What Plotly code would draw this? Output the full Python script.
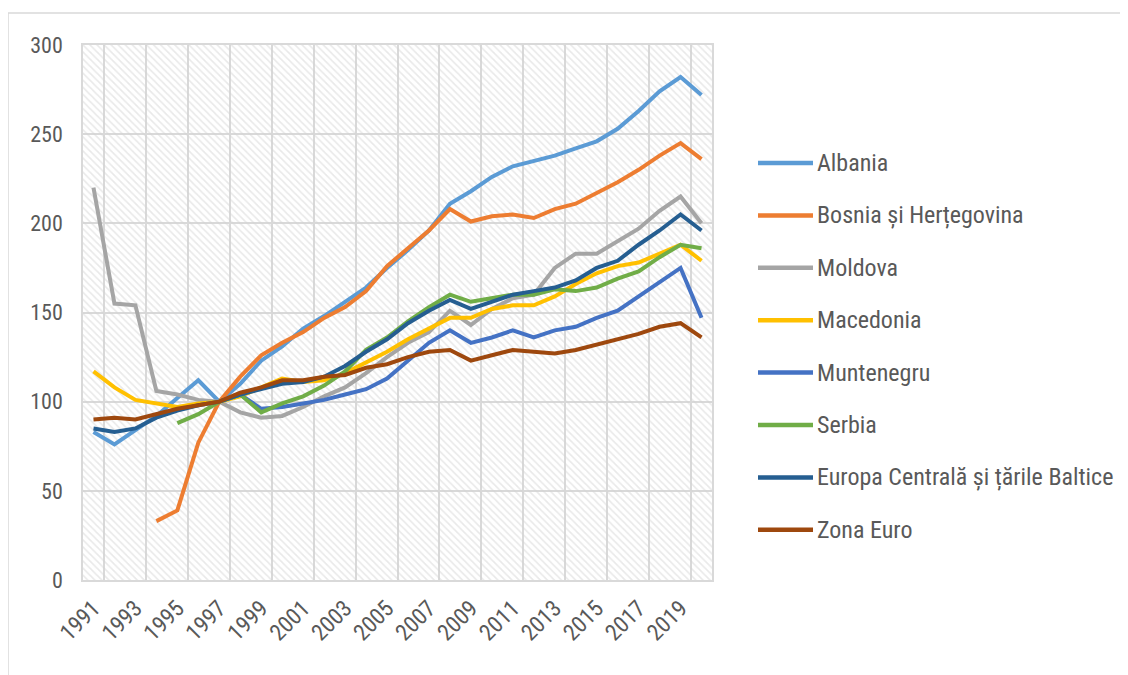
import plotly.graph_objects as go

years = list(range(1991, 2021))
tick_years = list(range(1991, 2020, 2))
y_ticks = [0, 50, 100, 150, 200, 250, 300]

series_names = ["Albania", "Bosnia și Herțegovina", "Moldova", "Macedonia",
                "Muntenegru", "Serbia", "Europa Centrală și țările Baltice", "Zona Euro"]
series_colors = ["#5B9BD5", "#ED7D31", "#A5A5A5", "#FFC000",
                 "#4472C4", "#70AD47", "#255E91", "#9E480E"]

albania = [83, 76, 84, 92, 102, 112, 100, 110, 123, 131, 141, 148, 156, 164, 175,
           185, 196, 211, 218, 226, 232, 235, 238, 242, 246, 253, 263, 274, 282, 272]
bosnia = [None, None, None, 33, 39, 77, 100, 114, 126, 133, 139, 147, 153, 162, 176,
          186, 196, 208, 201, 204, 205, 203, 208, 211, 217, 223, 230, 238, 245, 236]
moldova = [220, 155, 154, 106, 104, 101, 100, 94, 91, 92, 97, 103, 108, 116, 125,
           133, 139, 151, 143, 152, 158, 160, 175, 183, 183, 190, 197, 207, 215, 200]
macedonia = [117, 108, 101, 99, 97, 99, 100, 103, 108, 113, 111, 112, 116, 122, 128,
             135, 141, 147, 147, 152, 154, 154, 159, 166, 172, 176, 178, 183, 188, 179]
muntenegru = [None, None, None, None, None, None, 100, 104, 96, 97, 99, 101, 104, 107, 113,
              123, 133, 140, 133, 136, 140, 136, 140, 142, 147, 151, 159, 167, 175, 147]
serbia = [None, None, None, None, 88, 93, 100, 104, 94, 99, 103, 109, 117, 129, 136,
          145, 153, 160, 156, 158, 160, 160, 163, 162, 164, 169, 173, 181, 188, 186]
ecb = [85, 83, 85, 91, 95, 98, 100, 104, 107, 110, 111, 114, 120, 128, 135,
       144, 151, 157, 152, 156, 160, 162, 164, 168, 175, 179, 188, 196, 205, 196]
zona_euro = [90, 91, 90, 93, 96, 98, 100, 105, 108, 112, 112, 114, 115, 119, 121,
             125, 128, 129, 123, 126, 129, 128, 127, 129, 132, 135, 138, 142, 144, 136]

series_values = [albania, bosnia, moldova, macedonia, muntenegru, serbia, ecb, zona_euro]

FONT = "Liberation Sans Narrow, Roboto Condensed, Arial Narrow, Liberation Sans, sans-serif"
TXT = "#595959"
GRID = "#d9d9d9"

OFF = 8  # page body margin
W, H = 1128 - OFF, 675 - OFF
L, R, T, B = 83 - OFF, 712 - OFF, 45 - OFF, 580 - OFF

x_range = [years[0] - 0.5, years[-1] + 0.5]
y_range = [y_ticks[0], y_ticks[-1]]

fig = go.Figure()

# hatched plot-area background
fig.add_trace(go.Scatter(
    x=[x_range[0], x_range[1], x_range[1], x_range[0], x_range[0]],
    y=[y_range[0], y_range[0], y_range[1], y_range[1], y_range[0]],
    mode="none", fill="toself", fillcolor="rgba(0,0,0,0)",
    fillpattern=dict(shape="\\", fgcolor="#d3d3d3", bgcolor="rgba(0,0,0,0)",
                     size=5, solidity=0.32),
    showlegend=False, hoverinfo="skip"))

for name, color, vals in zip(series_names, series_colors, series_values):
    fig.add_trace(go.Scatter(x=years, y=vals, name=name, mode="lines",
                             line=dict(color=color, width=4),
                             connectgaps=False, showlegend=False))

# convert reference-image pixels to paper coordinates
def px(xp):
    return (xp - OFF - L) / (R - L)

def py(yp):
    return (B - (yp - OFF)) / (B - T)

# custom legend
leg_y0, leg_dy = 163, 52.4
shapes = []
annotations = []
for i, (name, color) in enumerate(zip(series_names, series_colors)):
    yy = leg_y0 + i * leg_dy
    shapes.append(dict(type="line", xref="paper", yref="paper",
                       x0=px(758), x1=px(813), y0=py(yy), y1=py(yy),
                       line=dict(color=color, width=4.5)))
    annotations.append(dict(xref="paper", yref="paper", x=px(815), y=py(yy),
                            text=name, showarrow=False, xanchor="left", yanchor="middle",
                            font=dict(family=FONT, size=24, color=TXT)))

# chart-area border
shapes.append(dict(type="rect", xref="paper", yref="paper",
                   x0=px(8), x1=px(1145), y0=py(13), y1=py(700),
                   line=dict(color="#d9d9d9", width=1.5), fillcolor="rgba(0,0,0,0)",
                   layer="below"))

fig.update_layout(
    width=W, height=H,
    margin=dict(l=L, r=W - R, t=T, b=H - B, pad=0, autoexpand=False),
    paper_bgcolor="white", plot_bgcolor="white",
    showlegend=False,
    shapes=shapes, annotations=annotations,
    font=dict(family=FONT, color=TXT),
)

fig.update_xaxes(
    range=x_range, tickmode="array", tickvals=tick_years,
    ticktext=[str(y) for y in tick_years], tickangle=-45,
    tickfont=dict(family=FONT, size=23, color=TXT),
    showgrid=False, zeroline=False, ticks="", automargin=False,
    showline=True, linecolor=GRID, linewidth=1.5, mirror=True,
    minor=dict(tick0=years[0] + 0.5, dtick=2, showgrid=True,
               gridcolor=GRID, gridwidth=1.5, ticks=""),
    ticklabelstandoff=4,
)
fig.update_yaxes(
    range=y_range, tickmode="array", tickvals=y_ticks,
    tickfont=dict(family=FONT, size=22, color=TXT),
    showgrid=True, gridcolor=GRID, gridwidth=1.5, zeroline=False, ticks="",
    automargin=False,
    showline=True, linecolor=GRID, linewidth=1.5, mirror=True,
    ticklabelstandoff=14,
)

fig.write_html("out.html")
